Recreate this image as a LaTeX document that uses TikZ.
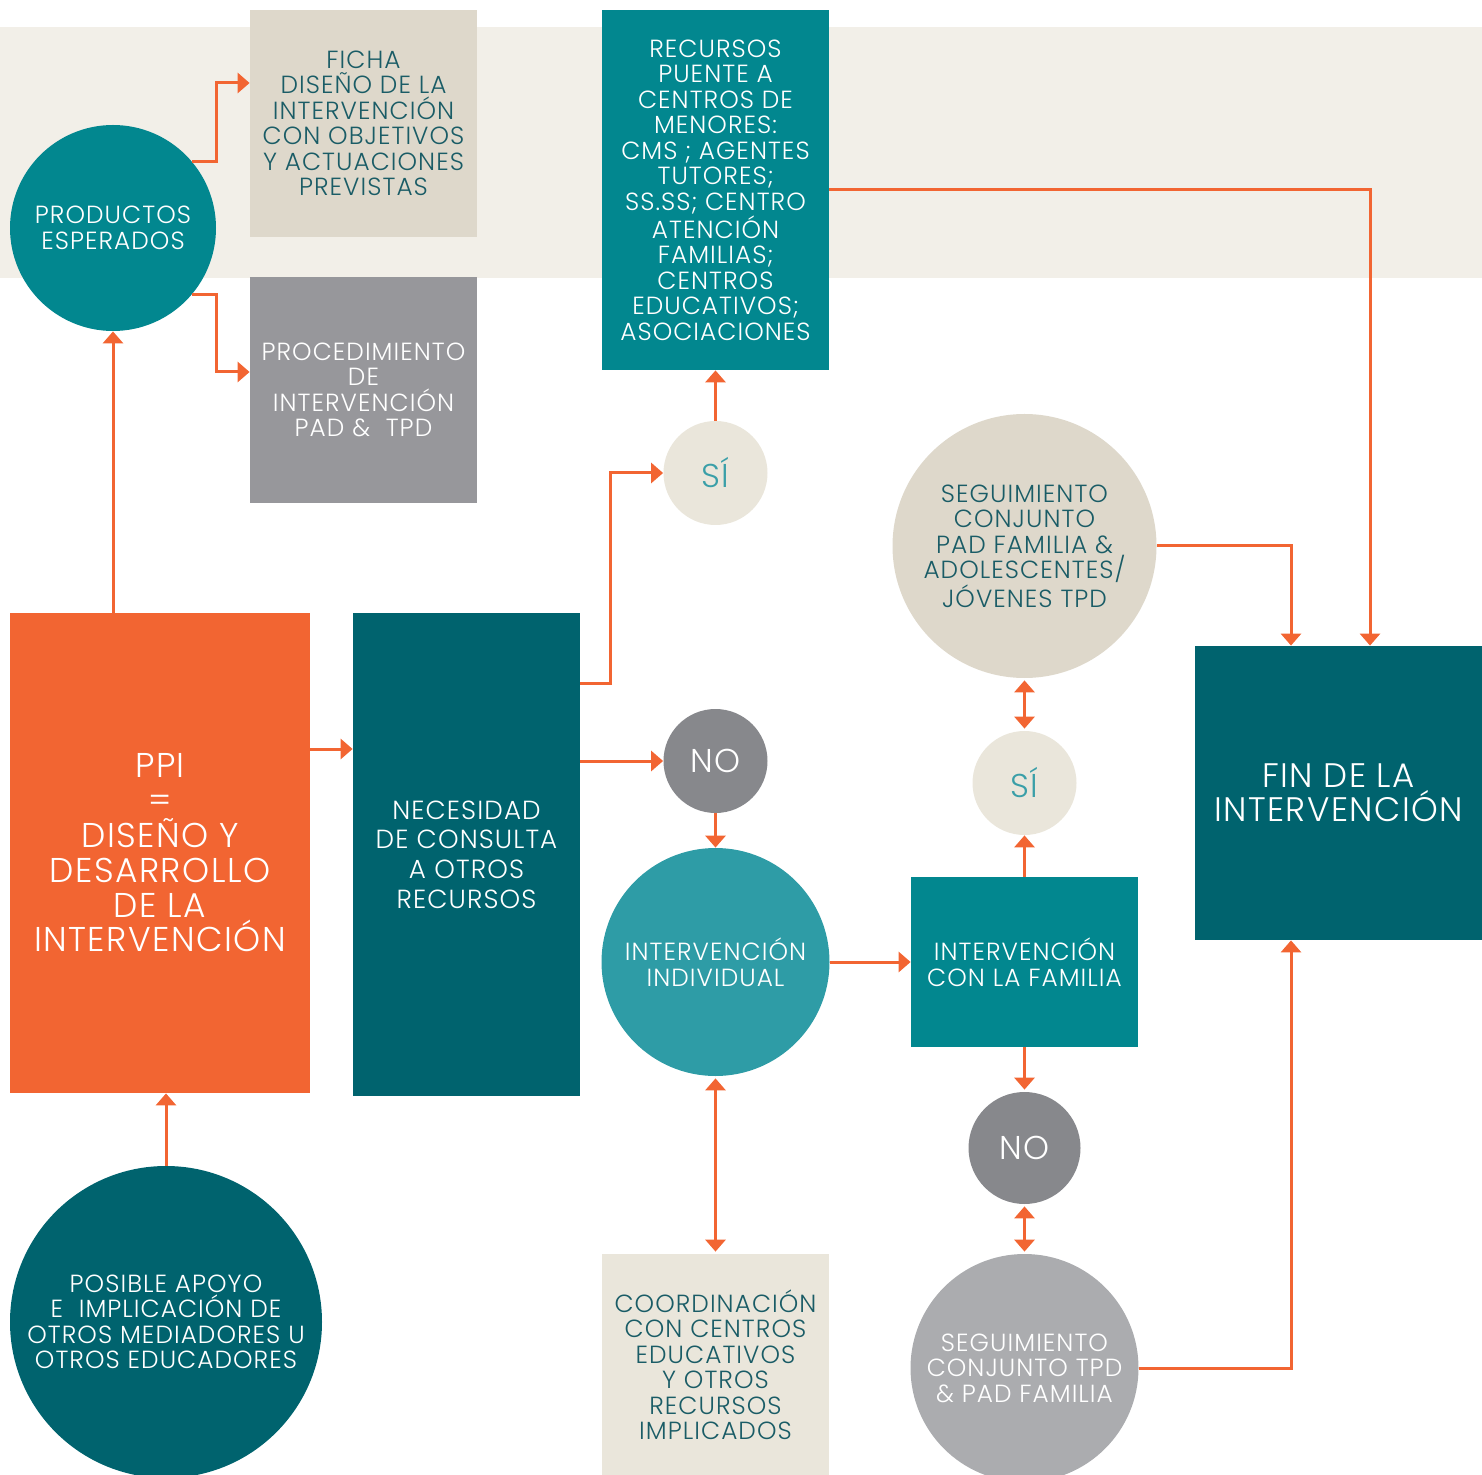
\documentclass[tikz,border=0pt]{standalone}
\usepackage{fontspec}
\IfFontExistsTF{Poppins Light}{\setmainfont{Poppins Light}[LetterSpace=4.2]}{\setmainfont{Poppins}[LetterSpace=4.2]}
\usetikzlibrary{arrows.meta}
\definecolor{orng}{HTML}{F26532}
\definecolor{teal1}{HTML}{02878F}
\definecolor{dteal}{HTML}{00636E}
\definecolor{mteal}{HTML}{2E9CA6}
\definecolor{beige}{HTML}{DED8CB}
\definecolor{lbeige}{HTML}{EAE6DB}
\definecolor{band}{HTML}{F2EFE8}
\definecolor{gproc}{HTML}{97979B}
\definecolor{gno}{HTML}{87888C}
\definecolor{gseg}{HTML}{ABACAF}
\definecolor{tdark}{HTML}{1A5C66}
\definecolor{tsi}{HTML}{3A9FA8}
\tikzset{
  base/.style={inner sep=0pt, align=center, font=\fontsize{12.4}{12.75}\selectfont},
  boxn/.style={base, rectangle, minimum width=#1},
  circn/.style={base, circle, minimum size=#1},
  yesno/.style={font=\fontsize{16.5}{17}\selectfont},
  arr/.style={draw=orng, line width=1.5pt, -{Triangle[width=10pt,length=6pt]}},
  darr/.style={draw=orng, line width=1.5pt, {Triangle[width=10pt,length=6pt]}-{Triangle[width=10pt,length=6pt]}},
}
\begin{document}
\begin{tikzpicture}[x=0.5pt,y=-0.5pt]
\useasboundingbox (0,0) rectangle (1482,1475);
\clip (0,0) rectangle (1482,1475);
\fill[band] (0,27) rectangle (1482,278);
% nodes
\node[circn=103pt, fill=teal1, text=white] (prod) at (113,228) {PRODUCTOS\\ESPERADOS};
\node[boxn=113.5pt, minimum height=113.5pt, fill=beige, text=tdark] (ficha) at (363.5,123.5) {FICHA\\DISEÑO DE LA\\INTERVENCIÓN\\CON OBJETIVOS\\Y ACTUACIONES\\PREVISTAS};
\node[boxn=113.5pt, minimum height=113pt, fill=gproc, text=white] (proc) at (363.5,390) {PROCEDIMIENTO\\DE\\INTERVENCIÓN\\PAD \&\ \ TPD};
\node[boxn=113.5pt, minimum height=180pt, fill=teal1, text=white] (rec) at (715.5,190) {RECURSOS\\PUENTE A\\CENTROS DE\\MENORES:\\CMS ; AGENTES\\TUTORES;\\SS.SS; CENTRO\\ATENCIÓN\\FAMILIAS;\\CENTROS\\EDUCATIVOS;\\ASOCIACIONES};
\node[boxn=150pt, minimum height=240pt, fill=orng, text=white, font=\fontsize{17.2}{17.4}\selectfont] (ppi) at (160,853) {PPI\\=\\DISEÑO Y\\DESARROLLO\\DE LA\\INTERVENCIÓN};
\node[boxn=113.5pt, minimum height=241.5pt, fill=dteal, text=white, font=\fontsize{13.1}{14.8}\selectfont] (nec) at (466.5,854.5) {NECESIDAD\\DE CONSULTA\\A OTROS\\RECURSOS};
\node[circn=52pt, fill=lbeige, text=tsi, yesno] (si1) at (715.5,473) {SÍ};
\node[circn=52pt, fill=gno, text=white, yesno] (no1) at (715.5,761) {NO};
\node[circn=114pt, fill=mteal, text=white] (ind) at (715.5,962) {INTERVENCIÓN\\INDIVIDUAL};
\node[boxn=113.5pt, minimum height=110.5pt, fill=lbeige, text=tdark] (coord) at (715.5,1364.5) {COORDINACIÓN\\CON CENTROS\\EDUCATIVOS\\Y OTROS\\RECURSOS\\IMPLICADOS};
\node[circn=132pt, fill=beige, text=tdark] (seg1) at (1024.5,546) {SEGUIMIENTO\\CONJUNTO\\PAD FAMILIA \&\\ADOLESCENTES/\\JÓVENES TPD};
\node[circn=52pt, fill=lbeige, text=tsi, yesno] (si2) at (1024.5,783) {SÍ};
\node[boxn=113.5pt, minimum height=85pt, fill=teal1, text=white] (fam) at (1024.5,962) {INTERVENCIÓN\\CON LA FAMILIA};
\node[circn=56pt, fill=gno, text=white, yesno] (no2) at (1024.5,1148) {NO};
\node[circn=114pt, fill=gseg, text=white] (seg2) at (1024.5,1368) {SEGUIMIENTO\\CONJUNTO TPD\\\& PAD FAMILIA};
\node[boxn=143.5pt, minimum height=147pt, fill=dteal, text=white, font=\fontsize{17}{17}\selectfont] (fin) at (1338.5,793) {FIN DE LA\\INTERVENCIÓN};
\node[circn=156pt, fill=dteal, text=white] (apoyo) at (166,1322) {POSIBLE APOYO\\E\ \ IMPLICACIÓN DE\\OTROS MEDIADORES U\\OTROS EDUCADORES};
% helper coordinates
\coordinate (c1) at (216,83);
\coordinate (c2) at (216,372);
\coordinate (p1) at (0,749);
\coordinate (n1) at (610,683);
\coordinate (f1) at (1370,0);
\coordinate (f2) at (1291,0);
% connectors
\draw[arr] (ppi.north -| prod.south) -- (prod.south);
\draw[arr] (prod.40) -| (c1) -- (c1 -| ficha.west);
\draw[arr] (prod.-40) -| (c2) -- (c2 -| proc.west);
\draw[arr] (ppi.east |- p1) -- (nec.west |- p1);
\draw[arr] (nec.east |- n1) -| (n1 |- si1.west) -- (si1.west);
\draw[arr] (nec.east |- no1.west) -- (no1.west);
\draw[arr] (si1.north) -- (rec.south -| si1.north);
\draw[arr] (rec.east) -| (fin.north -| f1);
\draw[arr] (no1.south) -- (ind.north);
\draw[darr, shorten <=1pt, shorten >=1pt] (ind.south) -- (coord.north);
\draw[arr] (ind.east) -- (fam.west);
\draw[arr] (fam.north) -- (si2.south);
\draw[darr, shorten <=1pt, shorten >=1pt] (si2.north) -- (seg1.south);
\draw[arr] (seg1.east) -| (fin.north -| f2);
\draw[arr, shorten >=1pt] (fam.south) -- (no2.north);
\draw[darr, shorten <=1pt, shorten >=1pt] (no2.south) -- (seg2.north);
\draw[arr] (seg2.east) -| (fin.south -| f2);
\draw[arr] (apoyo.north) -- (ppi.south -| apoyo.north);
\end{tikzpicture}
\end{document}
